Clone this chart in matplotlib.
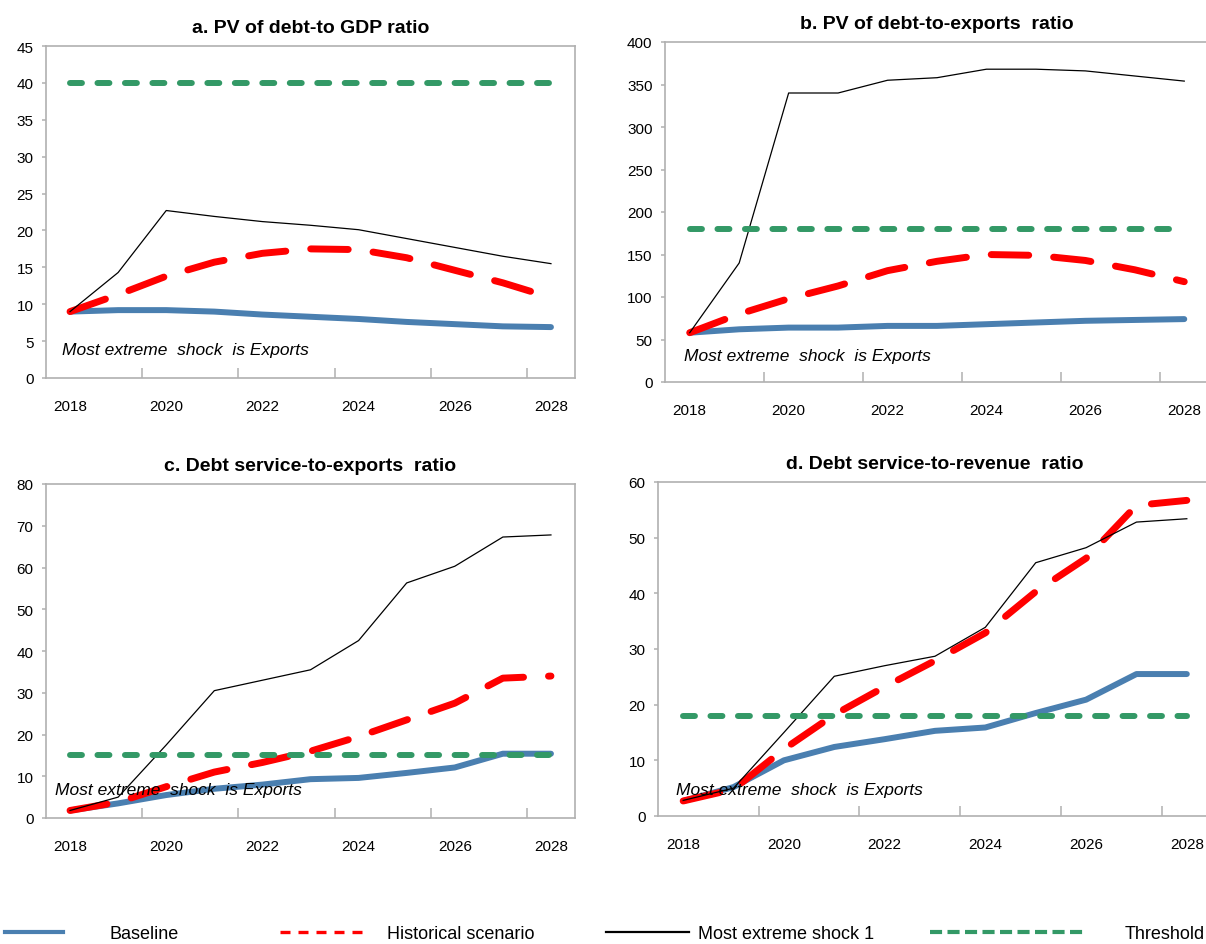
import numpy as np
import matplotlib
matplotlib.use('Agg')
import matplotlib.pyplot as plt
from matplotlib.lines import Line2D

plt.rcParams['font.family'] = ['Liberation Sans', 'DejaVu Sans']

years = list(range(2018, 2029))

a_base = [9.0, 9.2, 9.2, 9.0, 8.6, 8.3, 8.0, 7.6, 7.3, 7.0, 6.9]
a_hist = [9.0, 11.3, 13.8, 15.7, 16.9, 17.5, 17.4, 16.3, 14.6, 12.9, 10.9]
a_shock = [9.0, 14.3, 22.7, 21.9, 21.2, 20.7, 20.1, 18.9, 17.7, 16.5, 15.5]
a_thr = 40

b_base = [58, 62, 64, 64, 66, 66, 68, 70, 72, 73, 74]
b_hist = [58, 80, 98, 113, 131, 142, 150, 149, 143, 132, 118]
b_shock = [58, 140, 340, 340, 355, 358, 368, 368, 366, 360, 354]
b_thr = 180

c_base = [1.8, 3.5, 5.5, 7.0, 8.0, 9.3, 9.6, 10.8, 12.1, 15.4, 15.4]
c_hist = [1.8, 3.8, 7.5, 11.0, 13.3, 16.0, 19.5, 23.5, 27.5, 33.5, 34.0]
c_shock = [1.8, 5.0, 17.5, 30.5, 33.0, 35.5, 42.5, 56.3, 60.3, 67.3, 67.8]
c_thr = 15

d_base = [2.7, 5.2, 10.0, 12.4, 13.8, 15.3, 15.9, 18.5, 20.9, 25.5, 25.5]
d_hist = [2.7, 4.8, 12.0, 18.2, 23.2, 27.9, 32.9, 40.3, 46.3, 55.8, 56.7]
d_shock = [2.8, 5.0, 15.0, 25.1, 27.0, 28.7, 33.9, 45.5, 48.2, 52.8, 53.4]
d_thr = 18

titles = ['a. PV of debt-to GDP ratio', 'b. PV of debt-to-exports  ratio',
          'c. Debt service-to-exports  ratio', 'd. Debt service-to-revenue  ratio']
note = 'Most extreme  shock  is Exports'
legend_labels = ['Baseline', 'Historical scenario', 'Most extreme shock 1', 'Threshold']

BLUE = '#4a7fb0'
RED = '#ff0000'
GREEN = '#339966'
SPINE = '#b0b0b0'

sty_base = dict(color=BLUE, lw=4.3, solid_capstyle='round', zorder=2)
sty_hist = dict(color=RED, lw=5.0, dashes=(5.4, 3.6), dash_capstyle='round', zorder=3)
sty_shock = dict(color='black', lw=0.9, zorder=4)
sty_thr = dict(color=GREEN, lw=4.3, dashes=(2.0, 2.6), dash_capstyle='round', zorder=5)

fig = plt.figure(figsize=(12.06, 9.45), dpi=100)
W, H = 1206, 945
# axes boxes in pixels: left, top, right, bottom
boxes = [(46, 47, 575, 379), (665, 43, 1209, 383), (46, 485, 575, 819), (658, 483, 1212, 817)]
panels = [
    (a_base, a_hist, a_shock, a_thr, 45, 5, (0.030, 0.087)),
    (b_base, b_hist, b_shock, b_thr, 400, 50, (0.035, 0.078)),
    (c_base, c_hist, c_shock, c_thr, 80, 10, (0.017, 0.084)),
    (d_base, d_hist, d_shock, d_thr, 60, 10, (0.032, 0.078)),
]

x = np.arange(len(years))
for (l, t, r, b), (base, hist, shock, thr, ymax, ystep, npos), title in zip(boxes, panels, titles):
    ax = fig.add_axes([l / W, 1 - b / H, (r - l) / W, (b - t) / H])
    ax.plot(x, base, **sty_base)
    ax.plot(x, hist, **sty_hist)
    ax.plot(x, shock, **sty_shock)
    ax.plot(x, [thr] * len(x), **sty_thr)
    ax.set_xlim(-0.5, len(x) - 0.5)
    ax.set_ylim(0, ymax)
    ax.set_yticks(np.arange(0, ymax + 1, ystep))
    ax.set_xticks(x[::2])
    ax.set_xticklabels([str(y) for y in years[::2]])
    ax.set_xticks(np.arange(1.5, len(x) - 1, 2), minor=True)
    ax.tick_params(axis='x', which='major', length=0, pad=15, labelsize=11)
    ax.tick_params(axis='x', which='minor', direction='in', length=7, color=SPINE, width=1.1)
    ax.tick_params(axis='y', length=3, color=SPINE, width=1.1, pad=6, labelsize=11)
    for s in ax.spines.values():
        s.set_color(SPINE)
        s.set_linewidth(1.2)
    ax.set_title(title, fontsize=14, fontweight='bold', pad=10)
    ax.text(npos[0], npos[1], note, transform=ax.transAxes, fontsize=12.5,
            style='italic', va='center', ha='left', zorder=6)

handles = [Line2D([], [], color=BLUE, lw=3.0),
           Line2D([], [], color=RED, lw=2.4, dashes=(3.0, 2.4)),
           Line2D([], [], color='black', lw=1.6),
           Line2D([], [], color=GREEN, lw=3.0, dashes=(2.9, 1.3))]
# legend slots: handle start px, handle length, text pad (font-size units)
slots = [(5, 3.2, 2.6), (280, 4.9, 1.0), (606, 4.6, 0.5), (930, 8.6, 2.2)]
for h, lab, (x0, hl, pad) in zip(handles, legend_labels, slots):
    fig.legend([h], [lab], loc='center left', bbox_to_anchor=(x0 / W, 1 - 935 / H),
               frameon=False, fontsize=13, handlelength=hl, handletextpad=pad,
               borderpad=0, borderaxespad=0)

fig.savefig('out.png', dpi=100)
